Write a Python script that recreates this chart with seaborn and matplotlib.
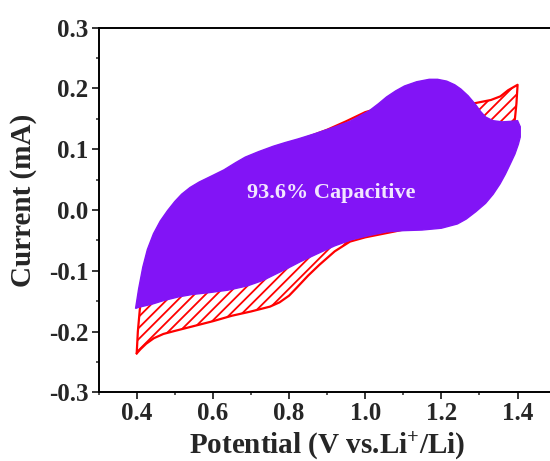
import numpy as np
import pandas as pd
import matplotlib
matplotlib.use("Agg")
import matplotlib.pyplot as plt
import seaborn as sns

# ---- data ----
# Total CV current (red loop): anodic sweep 0.4 -> 1.4 V, then cathodic sweep back
cv_x = [0.400, 0.403, 0.408, 0.415, 0.425, 0.440, 0.460, 0.480, 0.520, 0.560,
        0.610, 0.660, 0.720, 0.780, 0.840, 0.900, 0.950, 1.000, 1.050, 1.100,
        1.150, 1.200, 1.250, 1.290, 1.330, 1.355, 1.375, 1.400,
        1.397, 1.393, 1.385, 1.370, 1.350, 1.320, 1.280, 1.220, 1.150, 1.080,
        1.000, 0.960, 0.920, 0.880, 0.850, 0.820, 0.800, 0.775, 0.750, 0.700,
        0.650, 0.600, 0.550, 0.500, 0.470, 0.445, 0.425, 0.410, 0.400]
cv_y = [-0.236, -0.200, -0.165, -0.130, -0.100, -0.065, -0.035, -0.015, 0.013, 0.034,
        0.057, 0.074, 0.092, 0.106, 0.118, 0.132, 0.146, 0.161, 0.170, 0.171,
        0.171, 0.171, 0.172, 0.176, 0.181, 0.187, 0.197, 0.206,
        0.175, 0.150, 0.120, 0.090, 0.060, 0.030, 0.005, -0.012, -0.025, -0.035,
        -0.045, -0.052, -0.068, -0.090, -0.108, -0.128, -0.141, -0.152, -0.159, -0.167,
        -0.174, -0.183, -0.191, -0.199, -0.204, -0.211, -0.220, -0.229, -0.236]

# Capacitive contribution (purple region): upper edge then lower edge
cap_x = [0.397, 0.405, 0.416, 0.428, 0.444, 0.462, 0.481, 0.500, 0.518, 0.540,
         0.564, 0.600, 0.629, 0.660, 0.685, 0.720, 0.759, 0.790, 0.824, 0.870,
         0.917, 0.960, 1.010, 1.035, 1.056, 1.080, 1.103, 1.135, 1.168, 1.190,
         1.214, 1.235, 1.251, 1.270, 1.289, 1.303, 1.316, 1.335, 1.360, 1.385,
         1.400, 1.407,
         1.407, 1.402, 1.393, 1.381, 1.368, 1.354, 1.336, 1.316, 1.290, 1.265,
         1.242, 1.200, 1.149, 1.100, 1.056, 1.010, 0.964, 0.920, 0.871, 0.830,
         0.796, 0.760, 0.731, 0.690, 0.639, 0.590, 0.546, 0.510, 0.471, 0.440,
         0.406]
cap_y = [-0.162, -0.130, -0.094, -0.065, -0.039, -0.018, -0.001, 0.014, 0.026, 0.037,
         0.046, 0.057, 0.066, 0.078, 0.087, 0.096, 0.105, 0.111, 0.117, 0.126,
         0.136, 0.146, 0.163, 0.175, 0.186, 0.196, 0.204, 0.211, 0.215, 0.215,
         0.212, 0.206, 0.199, 0.188, 0.174, 0.162, 0.153, 0.147, 0.145, 0.146,
         0.147, 0.137,
         0.120, 0.108, 0.092, 0.076, 0.059, 0.043, 0.026, 0.011, -0.003, -0.015,
         -0.023, -0.030, -0.033, -0.034, -0.036, -0.042, -0.049, -0.059, -0.073, -0.085,
         -0.096, -0.107, -0.116, -0.125, -0.132, -0.136, -0.139, -0.143, -0.149, -0.155,
         -0.160]

x_ticks = [0.4, 0.6, 0.8, 1.0, 1.2, 1.4]
y_ticks = [-0.3, -0.2, -0.1, 0.0, 0.1, 0.2, 0.3]
label_text = "93.6% Capacitive"

# ---- style ----
sns.set_style("ticks")
plt.rcParams["font.family"] = ["Liberation Serif", "DejaVu Serif"]
plt.rcParams["font.weight"] = "bold"
plt.rcParams["axes.unicode_minus"] = False
plt.rcParams["mathtext.fontset"] = "custom"
plt.rcParams["mathtext.rm"] = "Liberation Serif:bold"
plt.rcParams["mathtext.bf"] = "Liberation Serif:bold"
plt.rcParams["mathtext.it"] = "Liberation Serif:bold"
plt.rcParams["hatch.linewidth"] = 1.3

fig = plt.figure(figsize=(5.5, 4.61), dpi=100)
ax = fig.add_axes([0.1793, 0.149, 0.831, 0.791])

red = "#FF0000"
purple = "#8214F6"

# hatched total-current region
ax.fill(cv_x, cv_y, facecolor="none", edgecolor=red, hatch="///", linewidth=0, zorder=1)
df_cv = pd.DataFrame({"x": cv_x, "y": cv_y})
sns.lineplot(data=df_cv, x="x", y="y", sort=False, estimator=None, color=red,
             linewidth=1.6, ax=ax, zorder=2)

# capacitive region
ax.fill(cap_x, cap_y, facecolor=purple, edgecolor=purple, linewidth=1.0, zorder=3)

ax.text(0.91, 0.028, label_text, color="#F2E6FF", fontsize=16, fontweight="bold",
        ha="center", va="center", zorder=4)

ax.set_xlim(0.3, 1.5)
ax.set_ylim(-0.3, 0.3)
ax.set_xticks(x_ticks)
ax.set_xticklabels([f"{v:.1f}" for v in x_ticks])
ax.set_yticks(y_ticks)
ax.set_yticklabels([f"{v:.1f}" for v in y_ticks])
ax.set_xticks(np.arange(0.3, 1.51, 0.1), minor=True)
ax.set_yticks(np.arange(-0.3, 0.301, 0.05), minor=True)

ax.tick_params(axis="both", which="major", direction="out", length=4.7, width=1.3,
               labelsize=18, pad=2.5)
ax.tick_params(axis="both", which="minor", direction="out", length=2.5, width=1.1)
ax.tick_params(top=False, right=False, which="both")
for lab in ax.get_xticklabels() + ax.get_yticklabels():
    lab.set_fontweight("bold")

for s in ["left", "bottom", "top"]:
    ax.spines[s].set_linewidth(1.4)
    ax.spines[s].set_color("black")
ax.spines["right"].set_visible(False)

ax.set_xlabel(r"Potential (V vs.Li$^{+}$/Li)", fontsize=21, fontweight="bold")
ax.set_ylabel("Current (mA)", fontsize=21, fontweight="bold")
ax.xaxis.set_label_coords(0.501, -0.104)
ax.yaxis.set_label_coords(-0.135, 0.527)

fig.savefig("out.png", dpi=100)
